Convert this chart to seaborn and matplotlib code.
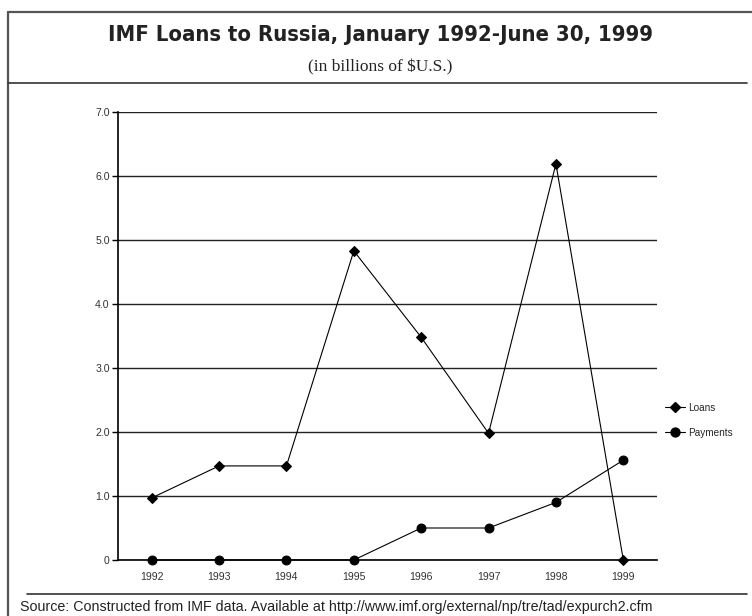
import matplotlib
matplotlib.use("Agg")
import matplotlib.pyplot as plt
import seaborn as sns
import pandas as pd
from matplotlib.lines import Line2D
from matplotlib.ticker import FixedLocator

# ---- data ----
years = ["1992", "1993", "1994", "1995", "1996", "1997", "1998", "1999"]
loans = [0.97, 1.47, 1.47, 4.83, 3.48, 1.98, 6.19, 0.0]
payments = [0.0, 0.0, 0.0, 0.0, 0.5, 0.5, 0.9, 1.56]
y_ticks = [0, 1, 2, 3, 4, 5, 6, 7]
y_tick_labels = ["0", "1.0", "2.0", "3.0", "4.0", "5.0", "6.0", "7.0"]
series_names = ["Loans", "Payments"]
title = "IMF Loans to Russia, January 1992-June 30, 1999"
subtitle = "(in billions of $U.S.)"
source = "Source: Constructed from IMF data. Available at http://www.imf.org/external/np/tre/tad/expurch2.cfm"

sns.set_theme(style="white")
plt.rcParams['font.family'] = ['Liberation Sans', 'DejaVu Sans']

W, H = 752, 616
fig = plt.figure(figsize=(W / 100, H / 100), dpi=100)
fig.patch.set_facecolor("white")

def fx(x):
    return x / W

def fy(y):
    return 1 - y / H

ax = fig.add_axes([fx(118), fy(560), fx(657) - fx(118), fy(112) - fy(560)])

pos = list(range(len(years)))
df = pd.DataFrame({
    "pos": pos * 2,
    "value": loans + payments,
    "series": [series_names[0]] * len(years) + [series_names[1]] * len(years),
})

DIAMOND_MS = 5.4
CIRCLE_MS = 6.4

sns.lineplot(data=df, x="pos", y="value", style="series",
             markers={"Loans": "D", "Payments": "o"}, dashes=False,
             color="black", linewidth=0.8, ax=ax, legend=False, zorder=5)
for ln in ax.lines:
    ln.set_markeredgecolor("black")
    ln.set_markerfacecolor("black")
    ln.set_clip_on(False)
    if ln.get_marker() == "D":
        ln.set_markersize(DIAMOND_MS)
    else:
        ln.set_markersize(CIRCLE_MS)

ax.set_xlim(-0.5, len(years) - 0.5)
ax.set_ylim(0, 7)
ax.set_xlabel("")
ax.set_ylabel("")

ax.set_yticks(y_ticks)
ax.set_yticklabels(y_tick_labels)
ax.yaxis.grid(True, color="#222222", linewidth=1.0)
ax.xaxis.grid(False)
ax.set_axisbelow(True)

ax.set_xticks(pos)
ax.set_xticklabels(years)
ax.xaxis.set_minor_locator(FixedLocator([p - 0.5 for p in pos] + [len(years) - 0.5]))
ax.tick_params(axis="x", which="major", length=0, pad=9, labelsize=7.6, labelcolor="#333333")
ax.tick_params(axis="x", which="minor", length=4, width=1, direction="out", color="black")
ax.tick_params(axis="y", which="major", length=4, width=1, direction="out", color="black",
               labelsize=7.6, labelcolor="#333333", pad=2, left=True)

for s in ["top", "right"]:
    ax.spines[s].set_visible(False)
for s in ["left", "bottom"]:
    ax.spines[s].set_visible(True)
    ax.spines[s].set_color("black")
    ax.spines[s].set_linewidth(1.2)

# legend
handles = [
    Line2D([0], [0], color="black", lw=0.8, marker="D", markersize=DIAMOND_MS),
    Line2D([0], [0], color="black", lw=0.8, marker="o", markersize=CIRCLE_MS),
]
ax.legend(handles, series_names, loc="center left",
          bbox_to_anchor=(1.015, 0.312), frameon=False, fontsize=7.2,
          handlelength=2.0, handletextpad=0.3, labelspacing=1.5,
          borderaxespad=0, borderpad=0)

# frame and separators
fig.add_artist(Line2D([fx(8), 1], [fy(12), fy(12)], transform=fig.transFigure, color="#555555", lw=1.6))
fig.add_artist(Line2D([fx(8), fx(8)], [0, fy(12)], transform=fig.transFigure, color="#555555", lw=1.6))
fig.add_artist(Line2D([fx(8), fx(747)], [fy(83), fy(83)], transform=fig.transFigure, color="#333333", lw=1.2))
fig.add_artist(Line2D([fx(27), fx(747)], [fy(594), fy(594)], transform=fig.transFigure, color="#333333", lw=1.2))

t1 = fig.text(fx(380), fy(35), title, ha="center", va="center", fontsize=15,
              fontweight="bold", family=["DejaVu Sans"], fontstretch="condensed",
              color="#222222")
fig.text(fx(380), fy(67), subtitle, ha="center", va="center", fontsize=12.5,
         family=["Liberation Serif"], color="#222222")
fig.text(fx(20), fy(607), source, ha="left", va="center", fontsize=10.3,
         family=["Liberation Sans"], color="#222222")

# fit title to its width in the reference
fig.canvas.draw()
r = fig.canvas.get_renderer()
w = t1.get_window_extent(r).width
t1.set_fontsize(t1.get_fontsize() * 545 / w)

fig.savefig("out.png", dpi=100, facecolor="white")
